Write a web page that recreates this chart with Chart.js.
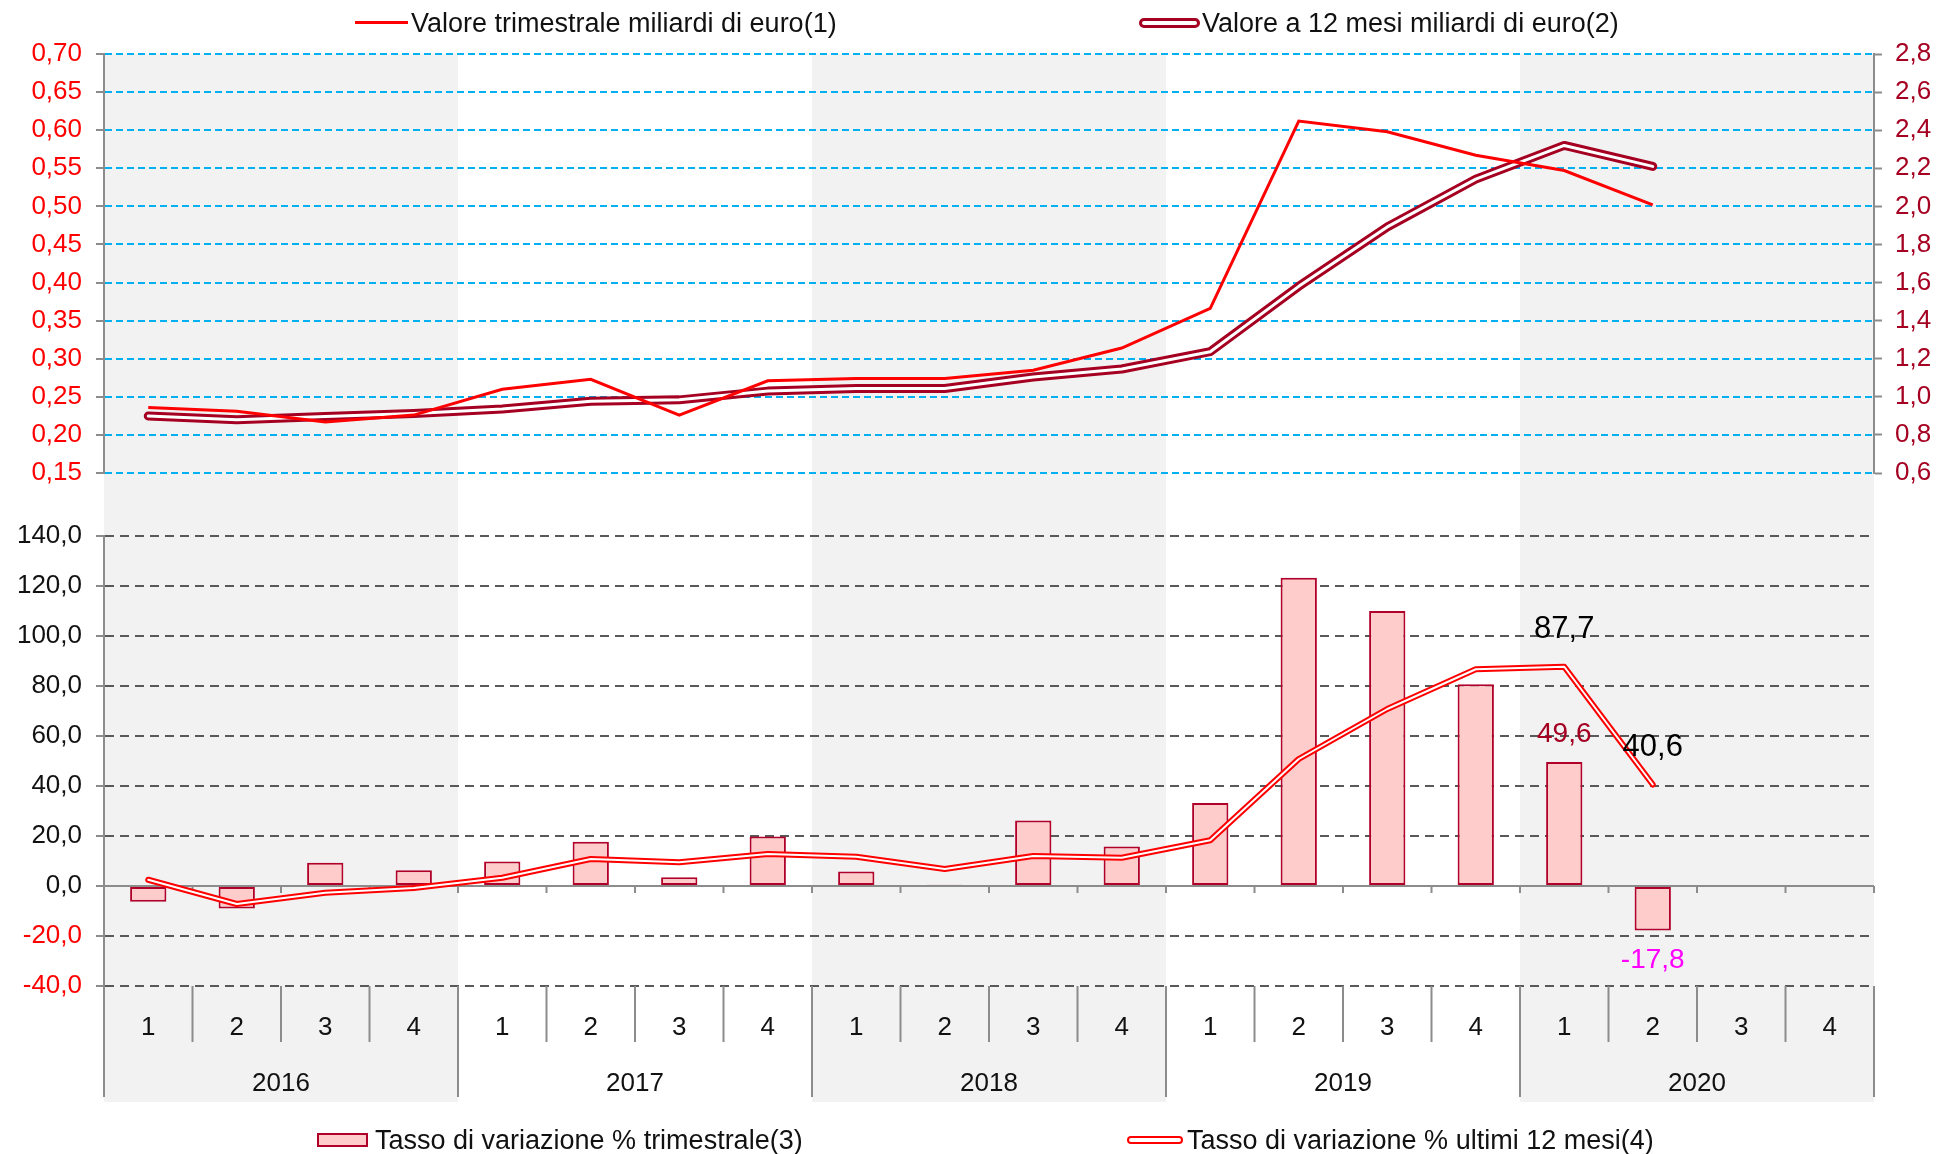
<!DOCTYPE html>
<html>
<head>
<meta charset="utf-8">
<script src="https://cdn.jsdelivr.net/npm/chart.js@4.4.1/dist/chart.umd.min.js"></script>
<style>
  html, body { margin: 0; padding: 0; background: #fff; }
  body { width: 1937px; height: 1154px; position: relative; overflow: hidden;
         font-family: "Liberation Sans", Arial, sans-serif; }
  canvas { position: absolute; left: 0; }
  #topChart { top: 0; }
  #bottomChart { top: 505px; }
  .leg { position: absolute; font-size: 27px; line-height: 30px; color: #111; white-space: nowrap; }
  .sym { position: absolute; box-sizing: border-box; }
</style>
</head>
<body>
<canvas id="topChart" width="1937" height="505"></canvas>
<canvas id="bottomChart" width="1937" height="649"></canvas>

<div class="sym" style="left:355px;top:21px;width:53px;height:3px;background:#FF0000"></div>
<div class="leg" style="left:411px;top:8px">Valore trimestrale miliardi di euro(1)</div>
<div class="sym" style="left:1139px;top:18px;width:61px;height:10px;border:3px solid #A50021;border-radius:5px;background:#fff"></div>
<div class="leg" style="left:1202px;top:8px">Valore a 12 mesi miliardi di euro(2)</div>

<div class="sym" style="left:317px;top:1133px;width:51px;height:14px;border:2px solid #B0002A;background:#FFCCCC"></div>
<div class="leg" style="left:375px;top:1125px">Tasso di variazione % trimestrale(3)</div>
<div class="sym" style="left:1127px;top:1136px;width:56px;height:8px;border:2px solid #FF0000;border-radius:4px;background:#fff"></div>
<div class="leg" style="left:1187px;top:1125px">Tasso di variazione % ultimi 12 mesi(4)</div>

<script>
// quarters 2016-2020
const years = ['2016', '2017', '2018', '2019', '2020'];
const quarterLabels = ['1','2','3','4', '1','2','3','4', '1','2','3','4', '1','2','3','4', '1','2','3','4'];

// upper panel: billions of euro
const quarterlyValue = [0.236, 0.231, 0.217, 0.226, 0.260, 0.273, 0.226, 0.271, 0.274, 0.274, 0.285, 0.314,
                        0.366, 0.612, 0.598, 0.567, 0.547, 0.502, null, null];
const rollingValue = [0.899, 0.880, 0.897, 0.913, 0.936, 0.977, 0.984, 1.030, 1.044, 1.044, 1.104, 1.146,
                      1.237, 1.580, 1.892, 2.143, 2.320, 2.210, null, null];

// lower panel: % change
const quarterlyChange = [-6.3, -9.0, 9.3, 6.3, 9.8, 17.7, 3.5, 19.8, 5.8, 0.5, 26.2, 15.8,
                         33.2, 123.3, 110.0, 80.7, 49.6, -17.8, null, null];
const rollingChange = [2.5, -7.2, -2.7, -0.8, 3.3, 10.8, 9.5, 12.8, 11.7, 6.8, 12.0, 11.3,
                       18.3, 50.8, 70.8, 86.7, 87.7, 40.6, null, null];
const labelledQuarters = [16, 17];

const leftTicks = [0.15, 0.20, 0.25, 0.30, 0.35, 0.40, 0.45, 0.50, 0.55, 0.60, 0.65, 0.70];
const rightTicks = [0.6, 0.8, 1.0, 1.2, 1.4, 1.6, 1.8, 2.0, 2.2, 2.4, 2.6, 2.8];
const changeTicks = [-40, -20, 0, 20, 40, 60, 80, 100, 120, 140];

const AXIS_GREY = '#8C8C8C';
const DARK_RED = '#A50021';
const FONT = '"Liberation Sans", Arial, sans-serif';
const comma = (v, d) => v.toFixed(d).replace('.', ',');
const fixedTicks = arr => s => { s.ticks = arr.map(v => ({ value: v })); };

// grey band behind every other year
function drawYearBands(chart, y0, y1) {
  const x = chart.scales.x, ctx = chart.ctx;
  const half = (x.getPixelForValue(1) - x.getPixelForValue(0)) / 2;
  ctx.save();
  ctx.fillStyle = '#F2F2F2';
  years.forEach((yr, i) => {
    if (i % 2) return;
    const a = x.getPixelForValue(i * 4) - half;
    const b = x.getPixelForValue(i * 4 + 3) + half;
    ctx.fillRect(a, y0, b - a, y1 - y0);
  });
  ctx.restore();
}

new Chart(document.getElementById('topChart'), {
  type: 'line',
  data: {
    labels: quarterLabels,
    datasets: [
      { data: quarterlyValue, yAxisID: 'y', borderColor: '#FF0000', borderWidth: 3,
        pointRadius: 0, order: 0 },
      { data: rollingValue, yAxisID: 'y1', borderColor: DARK_RED, borderWidth: 9,
        pointRadius: 0, borderCapStyle: 'round', borderJoinStyle: 'round', order: 2 },
      { data: rollingValue, yAxisID: 'y1', borderColor: '#FFFFFF', borderWidth: 3,
        pointRadius: 0, borderCapStyle: 'round', borderJoinStyle: 'round', order: 1 }
    ]
  },
  options: {
    responsive: false, animation: false, devicePixelRatio: 1,
    layout: { padding: { top: 54, bottom: 32, left: 0, right: 0 } },
    plugins: { legend: { display: false }, tooltip: { enabled: false } },
    scales: {
      x: { type: 'category', offset: true, display: false },
      y: {
        position: 'left', min: 0.15, max: 0.70,
        afterBuildTicks: fixedTicks(leftTicks),
        afterFit: s => { s.width = 104; },
        ticks: { color: '#FF0000', padding: 14, font: { size: 26, family: 'Liberation Sans' },
                 callback: v => comma(v, 2) },
        grid: { color: '#00B0F0', lineWidth: 2, tickLength: 8, tickColor: AXIS_GREY, tickWidth: 2 },
        border: { color: AXIS_GREY, width: 2, dash: [7, 4] }
      },
      y1: {
        position: 'right', min: 0.6, max: 2.8,
        afterBuildTicks: fixedTicks(rightTicks),
        afterFit: s => { s.width = 63; },
        ticks: { color: DARK_RED, padding: 13, font: { size: 26, family: 'Liberation Sans' },
                 callback: v => comma(v, 1) },
        grid: { drawOnChartArea: false, tickLength: 8, tickColor: AXIS_GREY, tickWidth: 2 },
        border: { color: AXIS_GREY, width: 2 }
      }
    }
  },
  plugins: [{
    id: 'bands',
    beforeDraw: c => drawYearBands(c, c.chartArea.top, c.height)
  }]
});

// zero line, quarter/year boxes under the plot and the value labels
const categoryAxis = {
  id: 'categoryAxis',
  beforeDraw(c) {
    drawYearBands(c, 0, c.chartArea.bottom + 116);
  },
  beforeDatasetsDraw(c) {
    const { ctx, chartArea } = c;
    const x = c.scales.x, y = c.scales.y;
    const n = quarterLabels.length;
    const half = (x.getPixelForValue(1) - x.getPixelForValue(0)) / 2;
    const y0 = y.getPixelForValue(0);
    const yb = chartArea.bottom;
    ctx.save();
    ctx.strokeStyle = AXIS_GREY;
    ctx.lineWidth = 2;
    ctx.beginPath();
    ctx.moveTo(chartArea.left, y0);
    ctx.lineTo(chartArea.right, y0);
    for (let i = 0; i <= n; i++) {
      const bx = i < n ? x.getPixelForValue(i) - half : x.getPixelForValue(n - 1) + half;
      ctx.moveTo(bx, y0);
      ctx.lineTo(bx, y0 + 7);
      ctx.moveTo(bx, yb);
      ctx.lineTo(bx, yb + (i % 4 === 0 ? 111 : 56));
    }
    ctx.stroke();
    ctx.fillStyle = '#111';
    ctx.font = '26px ' + FONT;
    ctx.textAlign = 'center';
    ctx.textBaseline = 'middle';
    quarterLabels.forEach((q, i) => ctx.fillText(q, x.getPixelForValue(i), yb + 42));
    years.forEach((yr, i) => {
      const cx = (x.getPixelForValue(i * 4 + 1) + x.getPixelForValue(i * 4 + 2)) / 2;
      ctx.fillText(yr, cx, yb + 98);
    });
    ctx.restore();
  },
  afterDatasetsDraw(c) {
    const ctx = c.ctx;
    const bars = c.getDatasetMeta(0).data;
    const line = c.getDatasetMeta(1).data;
    ctx.save();
    ctx.textAlign = 'center';
    ctx.textBaseline = 'middle';
    labelledQuarters.forEach(i => {
      const bv = quarterlyChange[i];
      const b = bars[i];
      ctx.font = '28px ' + FONT;
      if (bv >= 0) {
        ctx.fillStyle = DARK_RED;
        ctx.fillText(comma(bv, 1), b.x, b.y - 28);
      } else {
        ctx.fillStyle = '#FF00FF';
        ctx.fillText(comma(bv, 1), b.x, b.y + 30);
      }
      const p = line[i];
      ctx.fillStyle = '#000';
      ctx.font = '31px ' + FONT;
      ctx.fillText(comma(rollingChange[i], 1), p.x, p.y - 37);
    });
    ctx.restore();
  }
};

new Chart(document.getElementById('bottomChart'), {
  type: 'bar',
  data: {
    labels: quarterLabels,
    datasets: [
      { type: 'bar', data: quarterlyChange, backgroundColor: '#FFCCCC', borderColor: '#B0002A',
        borderWidth: 2, borderSkipped: false, barPercentage: 0.41, categoryPercentage: 1, order: 3 },
      { type: 'line', data: rollingChange, borderColor: '#FF0000', borderWidth: 6,
        pointRadius: 0, borderCapStyle: 'round', borderJoinStyle: 'round', order: 2 },
      { type: 'line', data: rollingChange, borderColor: '#FFFFFF', borderWidth: 2,
        pointRadius: 0, borderCapStyle: 'round', borderJoinStyle: 'round', order: 1 }
    ]
  },
  options: {
    responsive: false, animation: false, devicePixelRatio: 1,
    layout: { padding: { top: 31, bottom: 51, left: 0, right: 63 } },
    plugins: { legend: { display: false }, tooltip: { enabled: false } },
    scales: {
      x: {
        type: 'category', offset: true,
        afterFit: s => { s.height = 117; },
        grid: { display: false },
        border: { display: false },
        ticks: { display: false }
      },
      y: {
        min: -40, max: 140,
        afterBuildTicks: fixedTicks(changeTicks),
        afterFit: s => { s.width = 104; },
        ticks: { padding: 14, font: { size: 26, family: 'Liberation Sans' },
                 color: ctx => ctx.tick.value < 0 ? '#FF0000' : '#111',
                 callback: v => comma(v, 1) },
        grid: { color: '#595959', lineWidth: 2, tickLength: 8, tickColor: AXIS_GREY, tickWidth: 2 },
        border: { color: AXIS_GREY, width: 2, dash: [9, 6] }
      }
    }
  },
  plugins: [categoryAxis]
});
</script>
</body>
</html>
